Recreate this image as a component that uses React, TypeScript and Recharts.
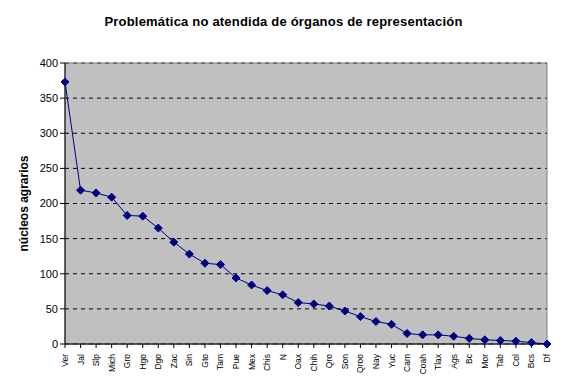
import { LineChart, Line, XAxis, YAxis, CartesianGrid, ReferenceArea } from 'recharts';

const estados = [
  'Ver', 'Jal', 'Slp', 'Mich', 'Gro', 'Hgo', 'Dgo', 'Zac', 'Sin', 'Gto', 'Tam',
  'Pue', 'Mex', 'Chis', 'N', 'Oax', 'Chih', 'Qro', 'Son', 'Qroo', 'Nay', 'Yuc',
  'Cam', 'Coah', 'Tlax', 'Ags', 'Bc', 'Mor', 'Tab', 'Col', 'Bcs', 'Df',
];
const nucleos = [
  373, 219, 215, 209, 183, 182, 165, 145, 128, 115, 113,
  94, 84, 76, 70, 59, 57, 54, 47, 39, 32, 28,
  15, 13, 13, 11, 8, 6, 5, 4, 2, 0,
];
const yTicks = [0, 50, 100, 150, 200, 250, 300, 350, 400];

const data = estados.map((estado, i) => ({ estado, valor: nucleos[i] }));

const font = 'Arial, "Liberation Sans", sans-serif';

function Diamond(props: any) {
  const { cx, cy } = props;
  if (cx == null || cy == null) return null;
  const r = 4;
  return (
    <polygon
      points={`${cx},${cy - r} ${cx + r},${cy} ${cx},${cy + r} ${cx - r},${cy}`}
      fill="#000080"
      stroke="#000080"
    />
  );
}

function XTick(props: any) {
  const { x, y, payload } = props;
  return (
    <text
      x={0}
      y={0}
      transform={`translate(${x + 3},${y + 4}) rotate(-90)`}
      textAnchor="end"
      fontSize={8.5}
      fontFamily={font}
      fill="#000"
    >
      {payload.value}
    </text>
  );
}

export default function App() {
  return (
    <div style={{ position: 'absolute', left: 0, top: 0, width: 567, height: 386, background: '#fff' }}>
      <div
        style={{
          position: 'absolute',
          top: 14,
          left: 0,
          width: 567,
          textAlign: 'center',
          fontFamily: font,
          fontWeight: 'bold',
          fontSize: 13,
          letterSpacing: 0.2,
        }}
      >
        Problemática no atendida de órganos de representación
      </div>
      <LineChart width={567} height={386} data={data} margin={{ top: 63, right: 20, bottom: 0, left: 10 }}>
        <CartesianGrid vertical={false} fill="#C0C0C0" stroke="#000" strokeDasharray="4 4" />
        <ReferenceArea x1="Ver" x2="Df" y1={0} y2={400} fill="none" stroke="#808080" />
        <XAxis
          dataKey="estado"
          interval={0}
          height={42}
          stroke="#000"
          tickSize={4}
          tick={<XTick />}
        />
        <YAxis
          width={55}
          domain={[0, 400]}
          ticks={yTicks}
          stroke="#000"
          tickSize={5}
          tick={{ fontSize: 11, fontFamily: font, fill: '#000' }}
          label={{
            value: 'núcleos agrarios',
            angle: -90,
            position: 'insideLeft',
            offset: 14,
            style: { textAnchor: 'middle', fontWeight: 'bold', fontSize: 12, fontFamily: font, fill: '#000' },
          }}
        />
        <Line
          dataKey="valor"
          stroke="#000080"
          strokeWidth={1}
          dot={<Diamond />}
          isAnimationActive={false}
        />
      </LineChart>
    </div>
  );
}
